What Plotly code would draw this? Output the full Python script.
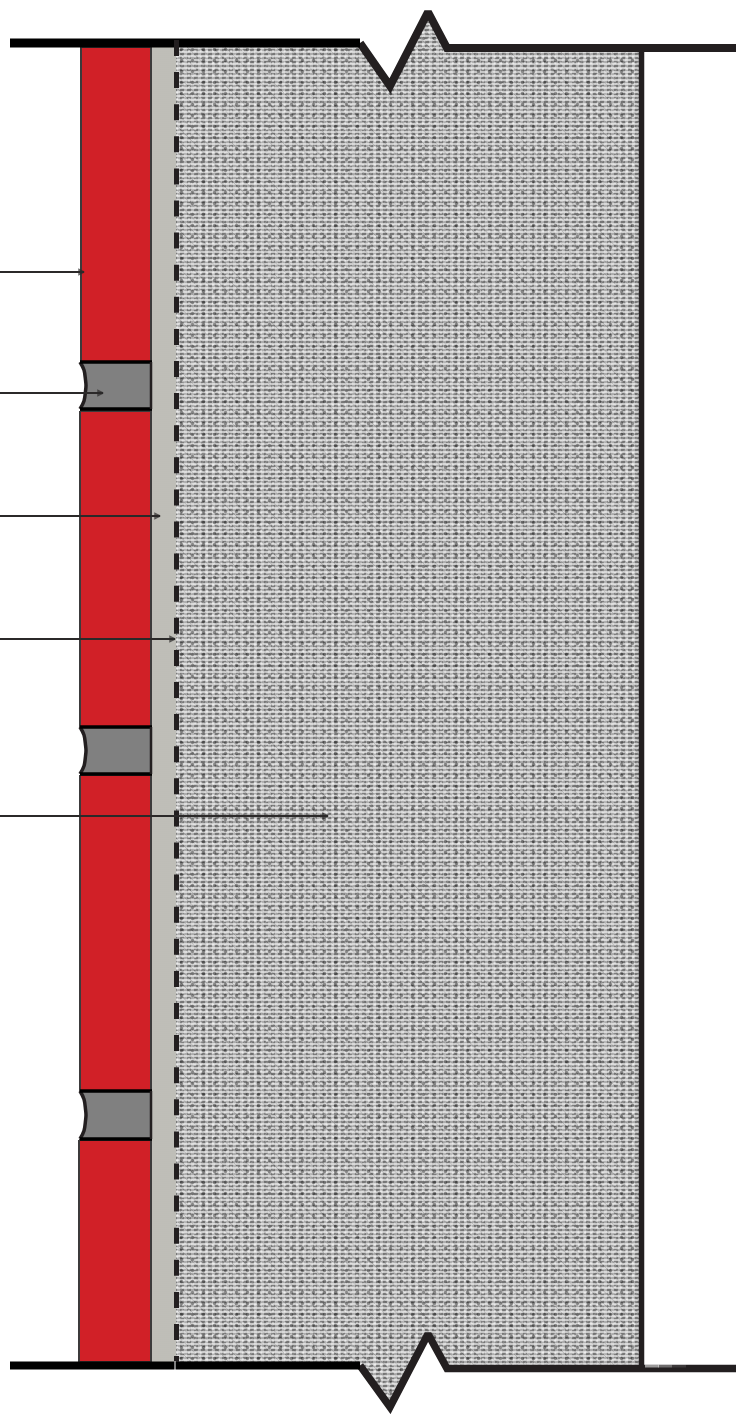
import plotly.graph_objects as go

WIDTH, HEIGHT = 736, 1414
INK = "#231f20"
BLACK = "#000000"

# Top and bottom break lines of the wall section
top_left_x, top_left_y = [10, 360], [43, 43]
top_break_x = [360, 390, 428, 447, 736]
top_break_y = [43, 86, 12, 48, 48]
bottom_left_x, bottom_left_y = [10, 360], [1365.5, 1365.5]
bottom_break_x = [360, 390, 428, 447, 736]
bottom_break_y = [1365.5, 1407, 1334, 1368.5, 1368.5]

# Bricks: top, bottom, left edge, right edge
brick_top = [47, 411, 775, 1140]
brick_bottom = [362, 727, 1091, 1362]
brick_left = [81, 80, 80, 79]
brick_right = [151, 151, 151, 151]

# Mortar joints: top, bottom and the concave left edge offsets
joint_top = [362, 727, 1091]
joint_bottom = [409, 774, 1139]
joint_curve_dx = [0, 4, 5.5, 6, 5.5, 4, 0]
joint_curve_frac = [0, 0.17, 0.38, 0.5, 0.62, 0.83, 1]

# Render layer and concrete bands
render_x = [164]
render_w = [24]
render_base = [47]
render_h = [1316]
concrete_x = [408]
concrete_w = [464]
concrete_base = [10]
concrete_h = [1400]

# Insulation (dashed) line, right wall face
dash_x, dash_y = [176.5, 176.5], [40, 1362]
face_x, face_y = [641.5, 641.5], [48, 1366]

# Leader lines: y and arrow tip x
leader_y = [272, 393, 516, 639, 816]
leader_tip = [84, 103, 160, 175, 328]

# Fade at the bottom right corner
fade_x = [645, 658, 672]
fade_alpha = [0.55, 0.35, 0.12]

fig = go.Figure()

# Concrete texture: fine layered dashes and specks at unrelated short periods
texture_layers = [
    ("rgba(200,200,200,1)", "-", "#060606", 4, 0.42),
    ("rgba(0,0,0,0)", "|", "rgba(238,238,238,0.92)", 7, 0.42),
    ("rgba(0,0,0,0)", "/", "rgba(250,250,250,0.55)", 5, 0.18),
    ("rgba(0,0,0,0)", "\\", "rgba(20,20,20,0.40)", 9, 0.10),
    ("rgba(0,0,0,0)", ".", "rgba(255,255,255,0.90)", 6, 0.16),
    ("rgba(0,0,0,0)", ".", "rgba(0,0,0,0.75)", 11, 0.07),
]
for bg, shape, fg, size, solidity in texture_layers:
    fig.add_trace(go.Bar(
        x=concrete_x, y=concrete_h, base=concrete_base, width=concrete_w,
        marker=dict(color=bg, line_width=0,
                    pattern=dict(shape=shape, fgcolor=fg, bgcolor=bg, size=size, solidity=solidity,
                                 fillmode="overlay")),
    ))

# Render: fine speckle
fig.add_trace(go.Bar(
    x=render_x, y=render_h, base=render_base, width=render_w,
    marker=dict(color="#bebdb7", line_width=0,
                pattern=dict(shape=".", fgcolor="#b0afa9", bgcolor="#c0bfb9", size=2, solidity=0.3)),
))


def poly(xs, ys, fill, line=None, width=0):
    fig.add_trace(go.Scatter(
        x=xs, y=ys, mode="lines", fill="toself", fillcolor=fill,
        line=dict(color=line or fill, width=width),
    ))


def path(xs, ys, color, width, dash=None, shape="linear"):
    fig.add_trace(go.Scatter(
        x=xs, y=ys, mode="lines",
        line=dict(color=color, width=width, dash=dash, simplify=False, shape=shape),
    ))


# White masks outside the break lines
poly([176, 176] + top_break_x[:4] + [640, 640, 176],
     [0, 43] + top_break_y[:4] + [48, 0, 0], "#ffffff")
poly([176, 176] + bottom_break_x[:4] + [640, 640, 176],
     [1414, 1365.5] + bottom_break_y[:4] + [1368.5, 1414, 1414], "#ffffff")
poly([640, 736, 736, 640], [0, 0, 1414, 1414], "#ffffff")

# Bricks
for t, b, l, r in zip(brick_top, brick_bottom, brick_left, brick_right):
    poly([l, r, r, l, l], [t, t, b, b, t], "#d12027", "#3c3a3b", 2)

# Mortar joints
for t, b in zip(joint_top, joint_bottom):
    cx = [80 + d for d in joint_curve_dx]
    cy = [t + f * (b - t) for f in joint_curve_frac]
    poly(cx + [151, 151, cx[0]], cy + [b, t, t], "#808080")
    path(cx, cy, INK, 3.5, shape="spline")
    path([80, 152], [t, t], BLACK, 3.5)
    path([80, 152], [b, b], BLACK, 3.5)
    path([151, 151], [t, b], INK, 2.5)

# Break lines, wall face, insulation dashes
path(face_x, face_y, INK, 5.5)
path(top_break_x, top_break_y, INK, 8)
path(bottom_break_x, bottom_break_y, INK, 7.5)
path(top_left_x, top_left_y, BLACK, 9)
path(bottom_left_x, bottom_left_y, BLACK, 8)
path(dash_x, dash_y, INK, 5, dash="16px,16.1px")
path([175, 175], [1361, 1370], "#ffffff", 1)

# Faded corner of the bottom line
for x, a in zip(fade_x, fade_alpha):
    path([x, x + 14], [1366, 1366], f"rgba(255,255,255,{a})", 3)

# Leaders with arrowheads
for y, tip in zip(leader_y, leader_tip):
    fig.add_trace(go.Scatter(
        x=[0, tip], y=[y, y], mode="lines+markers",
        line=dict(color="#2b2929", width=1.8),
        marker=dict(symbol=["circle-open", "arrow-right-open"], size=[0, 5], color="#2b2929",
                    line=dict(color="#2b2929", width=1.5)),
    ))

fig.update_layout(
    width=WIDTH, height=HEIGHT, margin=dict(l=0, r=0, t=0, b=0),
    paper_bgcolor="#ffffff", plot_bgcolor="#ffffff",
    barmode="overlay", showlegend=False, hovermode=False,
    xaxis=dict(range=[0, WIDTH], visible=False, fixedrange=True),
    yaxis=dict(range=[HEIGHT, 0], visible=False, fixedrange=True),
)
fig.write_html("out.html", config=dict(displayModeBar=False),
               post_script="document.body.style.margin='0';document.body.style.overflow='hidden';")
